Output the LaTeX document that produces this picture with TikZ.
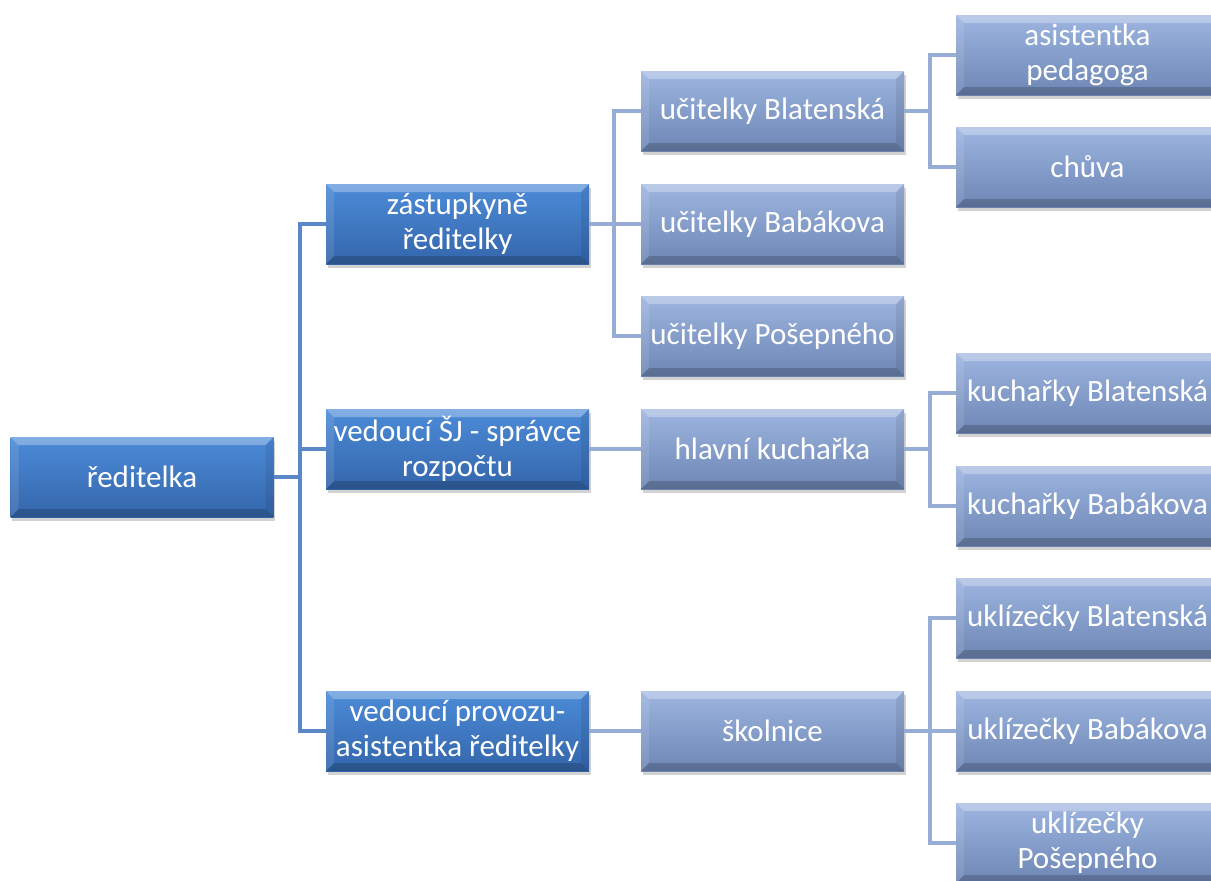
\documentclass[tikz,border=0pt]{standalone}
\usepackage{fontspec}
\setmainfont{Carlito}
\usetikzlibrary{shadows}
\definecolor{dkTop}{HTML}{4C8BD8}
\definecolor{dkMid}{HTML}{3E7AC5}
\definecolor{dkBot}{HTML}{3466AB}
\definecolor{ltTop}{HTML}{9DB5E0}
\definecolor{ltMid}{HTML}{88A2D3}
\definecolor{ltBot}{HTML}{6E86B4}
\definecolor{lineDk}{HTML}{5A88C6}
\definecolor{lineLt}{HTML}{97ADD6}
\tikzset{
  bevel/.style={path picture={
    \fill[white,opacity=.30] (path picture bounding box.north west) -- (path picture bounding box.north east)
      -- ([shift={(-8pt,-8pt)}]path picture bounding box.north east) -- ([shift={(8pt,-8pt)}]path picture bounding box.north west) -- cycle;
    \fill[black,opacity=.18] (path picture bounding box.south west) -- (path picture bounding box.south east)
      -- ([shift={(-8pt,8pt)}]path picture bounding box.south east) -- ([shift={(8pt,8pt)}]path picture bounding box.south west) -- cycle;
    \fill[white,opacity=.10] (path picture bounding box.north west) -- ([shift={(8pt,-8pt)}]path picture bounding box.north west)
      -- ([shift={(8pt,8pt)}]path picture bounding box.south west) -- (path picture bounding box.south west) -- cycle;
    \fill[black,opacity=.08] (path picture bounding box.north east) -- ([shift={(-8pt,-8pt)}]path picture bounding box.north east)
      -- ([shift={(-8pt,8pt)}]path picture bounding box.south east) -- (path picture bounding box.south east) -- cycle;
  }},
  box/.style={rectangle, minimum width=263pt, minimum height=80pt, inner sep=0pt,
    text=white, align=center, font=\fontsize{31}{35}\selectfont, bevel,
    drop shadow={shadow xshift=1.5pt, shadow yshift=-4pt, opacity=.35}},
  dkbox/.style={box, top color=dkTop, middle color=dkMid, bottom color=dkBot},
  ltbox/.style={box, top color=ltTop, middle color=ltMid, bottom color=ltBot},
  l1/.style={draw=lineDk, line width=4.5pt},
  l2/.style={draw=lineLt, line width=4.5pt},
}
\begin{document}
\begin{tikzpicture}[x=1pt,y=-1pt]
\clip (0,0) rectangle (1211,881);
\fill[white] (0,0) rectangle (1211,881);
% junction points
\coordinate (ja) at (300,477);
\coordinate (jb) at (614,224);
\coordinate (jc) at (930,111);
\coordinate (jd) at (930,449);
\coordinate (je) at (930,731);
% nodes
\node[dkbox] (red) at (142,477) {ředitelka};
\node[dkbox] (zast) at (457.5,224) {zástupkyně\\ředitelky};
\node[dkbox] (vsj) at (457.5,449) {vedoucí ŠJ - správce\\rozpočtu};
\node[dkbox] (vprov) at (457.5,731) {vedoucí provozu-\\asistentka ředitelky};
\node[ltbox] (ucbl) at (772.5,111) {učitelky Blatenská};
\node[ltbox] (ucbab) at (772.5,224) {učitelky Babákova};
\node[ltbox] (ucpos) at (772.5,336) {učitelky Pošepného};
\node[ltbox] (hlk) at (772.5,449) {hlavní kuchařka};
\node[ltbox] (skol) at (772.5,731) {školnice};
\node[ltbox] (asist) at (1087.5,55) {asistentka\\pedagoga};
\node[ltbox] (chuva) at (1087.5,167) {chůva};
\node[ltbox] (kbl) at (1087.5,393) {kuchařky Blatenská};
\node[ltbox] (kbab) at (1087.5,506) {kuchařky Babákova};
\node[ltbox] (ubl) at (1087.5,618) {uklízečky Blatenská};
\node[ltbox] (ubab) at (1087.5,731) {uklízečky Babákova};
\node[ltbox] (upos) at (1087.5,843) {uklízečky\\Pošepného};
% edges
\draw[l1] (red.east) -- (ja) |- (zast.west);
\draw[l1] (ja) |- (vsj.west);
\draw[l1] (ja) |- (vprov.west);
\draw[l2] (zast.east) -- (jb) |- (ucbl.west);
\draw[l2] (jb) -- (ucbab.west);
\draw[l2] (jb) |- (ucpos.west);
\draw[l2] (vsj.east) -- (hlk.west);
\draw[l2] (vprov.east) -- (skol.west);
\draw[l2] (ucbl.east) -- (jc) |- (asist.west);
\draw[l2] (jc) |- (chuva.west);
\draw[l2] (hlk.east) -- (jd) |- (kbl.west);
\draw[l2] (jd) |- (kbab.west);
\draw[l2] (skol.east) -- (je) |- (ubl.west);
\draw[l2] (je) -- (ubab.west);
\draw[l2] (je) |- (upos.west);
\end{tikzpicture}
\end{document}
